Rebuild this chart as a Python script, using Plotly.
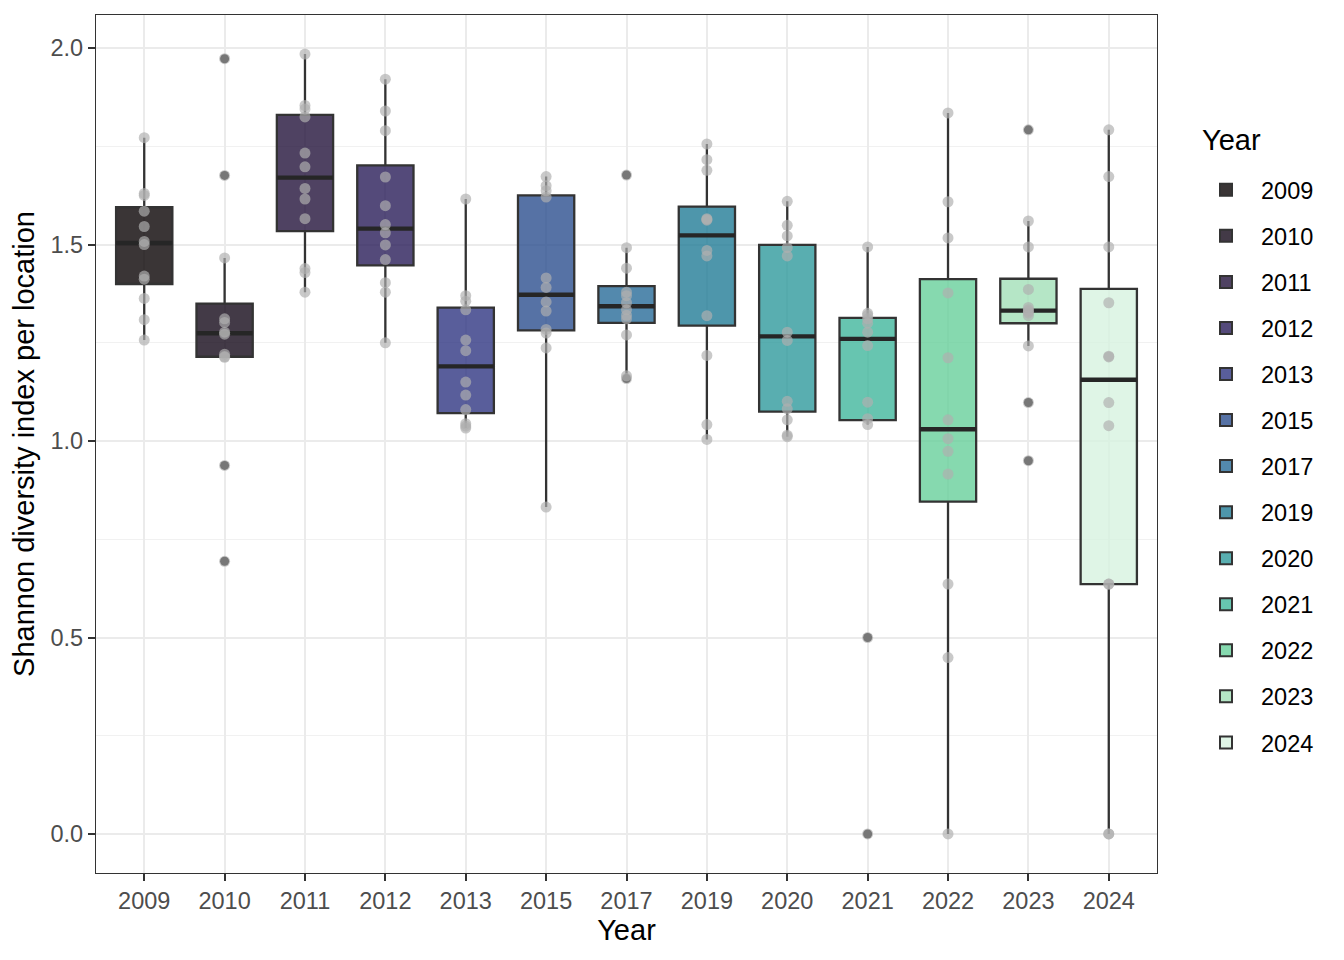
import numpy as np
import plotly.graph_objects as go

years = ["2009", "2010", "2011", "2012", "2013", "2015", "2017",
         "2019", "2020", "2021", "2022", "2023", "2024"]

shannon_2009 = [1.257, 1.309, 1.363, 1.412, 1.420, 1.500, 1.508, 1.546, 1.585, 1.625, 1.630, 1.772]
shannon_2010 = [0.694, 0.938, 1.213, 1.215, 1.221, 1.272, 1.277, 1.302, 1.311, 1.466, 1.676, 1.973]
shannon_2011 = [1.379, 1.429, 1.439, 1.566, 1.616, 1.643, 1.698, 1.733, 1.825, 1.845, 1.854, 1.985]
shannon_2012 = [1.250, 1.379, 1.403, 1.462, 1.499, 1.530, 1.551, 1.599, 1.672, 1.790, 1.840, 1.921]
shannon_2013 = [1.033, 1.038, 1.044, 1.080, 1.117, 1.150, 1.230, 1.257, 1.334, 1.356, 1.370, 1.616]
shannon_2015 = [0.832, 1.237, 1.275, 1.284, 1.331, 1.354, 1.391, 1.415, 1.621, 1.637, 1.650, 1.673]
shannon_2017 = [1.159, 1.166, 1.270, 1.311, 1.320, 1.334, 1.352, 1.370, 1.379, 1.440, 1.492, 1.677]
shannon_2019 = [1.004, 1.042, 1.218, 1.319, 1.471, 1.485, 1.562, 1.564, 1.566, 1.689, 1.716, 1.756]
shannon_2020 = [1.011, 1.015, 1.054, 1.082, 1.101, 1.256, 1.277, 1.471, 1.492, 1.522, 1.549, 1.610]
shannon_2021 = [0.000, 0.500, 1.042, 1.057, 1.099, 1.243, 1.277, 1.300, 1.311, 1.320, 1.325, 1.494]
shannon_2022 = [0.000, 0.449, 0.636, 0.916, 0.974, 1.006, 1.054, 1.212, 1.377, 1.517, 1.609, 1.835]
shannon_2023 = [0.950, 1.098, 1.242, 1.319, 1.326, 1.330, 1.334, 1.340, 1.386, 1.494, 1.560, 1.792]
shannon_2024 = [0.000, 0.000, 0.636, 0.636, 1.039, 1.098, 1.214, 1.216, 1.352, 1.494, 1.673, 1.792]

values = [shannon_2009, shannon_2010, shannon_2011, shannon_2012, shannon_2013,
          shannon_2015, shannon_2017, shannon_2019, shannon_2020, shannon_2021,
          shannon_2022, shannon_2023, shannon_2024]

y_ticks = [0.0, 0.5, 1.0, 1.5, 2.0]

# apparent (on white) fill colours; drawn with alpha 0.8
apparent_fill = ["#3a3536", "#433a47", "#4f4262", "#544a7a", "#595e9b", "#5672a5",
                 "#5389ad", "#4e96ab", "#59aeb0", "#67c5b0", "#86d9af", "#b5e6c6", "#dff5e6"]
ALPHA = 0.8


def fill_rgba(hexcol):
    h = hexcol.lstrip("#")
    rgb = [int(h[i:i + 2], 16) for i in (0, 2, 4)]
    base = [min(255, max(0, round((c - (1 - ALPHA) * 255) / ALPHA))) for c in rgb]
    return f"rgba({base[0]},{base[1]},{base[2]},{ALPHA})"


LINE = "#333333"
BOXW = 0.7

fig = go.Figure()

out_x, out_y, pt_x, pt_y = [], [], [], []
med_x, med_y = [], []
for i, (yr, vals) in enumerate(zip(years, values)):
    v = np.sort(np.array(vals, dtype=float))
    q1, med, q3 = np.percentile(v, [25, 50, 75])
    iqr = q3 - q1
    lo_f, hi_f = q1 - 1.5 * iqr, q3 + 1.5 * iqr
    inside = v[(v >= lo_f) & (v <= hi_f)]
    lw, uw = inside.min(), inside.max()
    for val in v:
        if val < lo_f or val > hi_f:
            out_x.append(i)
            out_y.append(val)
        pt_x.append(i)
        pt_y.append(val)
    fig.add_trace(go.Box(
        x=[i], q1=[q1], median=[med], q3=[q3], lowerfence=[lw], upperfence=[uw],
        width=BOXW, whiskerwidth=0, boxpoints=False,
        fillcolor=fill_rgba(apparent_fill[i]),
        line=dict(color=LINE, width=2.3),
        name=yr, legendgroup=yr, showlegend=True, hoverinfo="skip",
    ))
    med_x += [i - BOXW / 2, i + BOXW / 2, None]
    med_y += [med, med, None]

fig.add_trace(go.Scatter(x=med_x, y=med_y, mode="lines",
                         line=dict(color="#262626", width=4.4),
                         showlegend=False, hoverinfo="skip"))
fig.add_trace(go.Scatter(x=out_x, y=out_y, mode="markers",
                         marker=dict(color="black", size=9, line=dict(width=0)),
                         showlegend=False, hoverinfo="skip"))
fig.add_trace(go.Scatter(x=pt_x, y=pt_y, mode="markers",
                         marker=dict(color="rgba(175,175,175,0.68)", size=11, line=dict(width=0)),
                         showlegend=False, hoverinfo="skip"))

FONT = "Liberation Sans, Arial, Helvetica, sans-serif"

# page body has an 8px margin: compensate so the panel sits at x 96..1157, y 15..873
ML, MT = 88, 7
PW, PH = 1061, 858

fig.update_layout(
    width=1344, height=960,
    margin=dict(l=ML, r=1344 - ML - PW, t=MT, b=960 - MT - PH),
    paper_bgcolor="white", plot_bgcolor="white",
    font=dict(family=FONT, color="black"),
    showlegend=True,
    legend=dict(
        font=dict(size=23.5, color="black"),
        x=(1191 - 96) / PW, xanchor="left", y=(873 - 168) / PH, yanchor="top",
        tracegroupgap=12.5, itemwidth=60, itemsizing="constant",
        bgcolor="rgba(0,0,0,0)",
    ),
    annotations=[dict(text="Year", xref="paper", yref="paper",
                      x=(1200 - 96) / PW, y=(873 - 140) / PH, xanchor="left", yanchor="middle",
                      showarrow=False, font=dict(size=29, color="black"))],
    xaxis=dict(
        range=[-0.6, len(years) - 0.4],
        tickmode="array", tickvals=list(range(len(years))), ticktext=years,
        tickfont=dict(size=23.5, color="#4D4D4D"),
        ticks="outside", ticklen=7, tickwidth=1.5, tickcolor=LINE,
        showgrid=True, gridcolor="#EBEBEB", gridwidth=1.5,
        zeroline=False,
        showline=True, linecolor=LINE, linewidth=1.2, mirror=True,
        title=dict(text="Year", font=dict(size=29, color="black"), standoff=4),
    ),
    yaxis=dict(
        range=[-0.0993, 2.0843],
        tickmode="array", tickvals=y_ticks, ticktext=[f"{t:.1f}" for t in y_ticks],
        tickfont=dict(size=23.5, color="#4D4D4D"),
        ticks="outside", ticklen=7, tickwidth=1.5, tickcolor=LINE,
        showgrid=True, gridcolor="#EBEBEB", gridwidth=1.5,
        minor=dict(tickvals=[0.25, 0.75, 1.25, 1.75], showgrid=True,
                   gridcolor="#F1F1F1", gridwidth=0.8, ticks=""),
        zeroline=False,
        showline=True, linecolor=LINE, linewidth=1.2, mirror=True,
        title=dict(text="Shannon diversity index per location",
                   font=dict(size=29, color="black"), standoff=9),
    ),
)

fig.write_html("out.html")
